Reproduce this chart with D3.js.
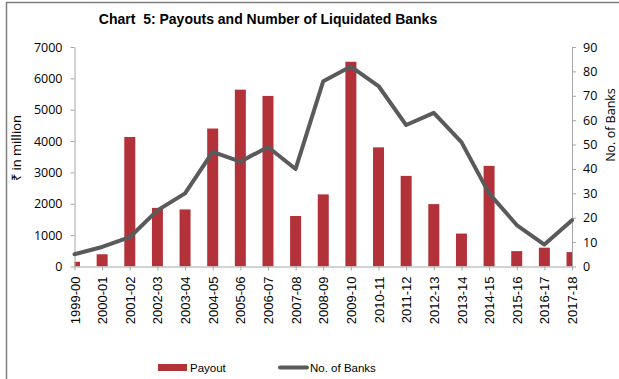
<!DOCTYPE html>
<html>
<head>
<meta charset="utf-8">
<script src="https://cdn.jsdelivr.net/npm/d3@7"></script>
<style>
  html, body { margin: 0; padding: 0; background: #fff; }
  svg { display: block; }
</style>
</head>
<body>
<svg id="chart" width="619" height="379"></svg>
<script>
// Fiscal years
const years = ["1999-00","2000-01","2001-02","2002-03","2003-04","2004-05","2005-06",
  "2006-07","2007-08","2008-09","2009-10","2010-11","2011-12","2012-13","2013-14",
  "2014-15","2015-16","2016-17","2017-18"];
// Payout, ₹ million (left axis)
const payout = [150, 390, 4130, 1870, 1820, 4400, 5640, 5440, 1610, 2300, 6530,
  3800, 2890, 1990, 1050, 3210, 490, 600, 460];
// Number of liquidated banks (right axis)
const banks = [5, 8, 12, 23, 30, 47, 43, 49, 40, 76, 82, 74, 58, 63, 51, 30, 17, 9, 19];
const leftTicks = [0, 1000, 2000, 3000, 4000, 5000, 6000, 7000];
const rightTicks = [0, 10, 20, 30, 40, 50, 60, 70, 80, 90];

const svg = d3.select("#chart");
const W = 619, H = 379;
const plot = { left: 74.5, right: 572, top: 47, bottom: 266.5 };
const barColor = "#B3323A", lineColor = "#5A5A5A", axisColor = "#A6A6A6";
const tickFont = "'Open Sans', 'Liberation Sans', sans-serif";
const arial = "'Liberation Sans', Arial, sans-serif";

svg.append("rect").attr("width", W).attr("height", H).attr("fill", "#fff");

// outer frame (top and left edges)
svg.append("path")
  .attr("d", `M6.5,${H} V2.5 H${W}`)
  .attr("fill", "none").attr("stroke", "#7F7F7F").attr("stroke-width", 1.5);

// title
svg.append("text")
  .attr("x", 268).attr("y", 24)
  .attr("text-anchor", "middle")
  .style("white-space", "pre")
  .attr("font-family", arial).attr("font-weight", "bold").attr("font-size", 14)
  .text("Chart  5: Payouts and Number of Liquidated Banks");

const x = d3.scalePoint().domain(years).range([plot.left, plot.right]);
const yL = d3.scaleLinear().domain([0, 7000]).range([plot.bottom, plot.top]);
const yR = d3.scaleLinear().domain([0, 90]).range([plot.bottom, plot.top]);

svg.append("clipPath").attr("id", "plotClip")
  .append("rect")
  .attr("x", plot.left).attr("y", 0)
  .attr("width", plot.right - plot.left).attr("height", plot.bottom);

// bars
const barW = 11;
svg.append("g").attr("clip-path", "url(#plotClip)")
  .selectAll("rect").data(years).join("rect")
  .attr("x", d => x(d) - barW / 2)
  .attr("y", (d, i) => yL(payout[i]))
  .attr("width", barW)
  .attr("height", (d, i) => plot.bottom - yL(payout[i]))
  .attr("fill", barColor);

// axes
function styleAxis(g) {
  g.selectAll(".domain").attr("stroke", axisColor);
  g.selectAll(".tick line").attr("stroke", axisColor);
  g.selectAll("text").attr("fill", "#000");
}

const gL = svg.append("g").attr("transform", `translate(${plot.left},0)`)
  .call(d3.axisLeft(yL).tickValues(leftTicks).tickFormat(d3.format("d"))
    .tickSize(4).tickSizeOuter(0).tickPadding(8));
gL.attr("font-family", tickFont).attr("font-size", 12.5);
styleAxis(gL);

const gR = svg.append("g").attr("transform", `translate(${plot.right},0)`)
  .call(d3.axisRight(yR).tickValues(rightTicks).tickFormat(d3.format("d"))
    .tickSize(4).tickSizeOuter(0).tickPadding(7));
gR.attr("font-family", tickFont).attr("font-size", 12.5);
styleAxis(gR);

const gX = svg.append("g").attr("transform", `translate(0,${plot.bottom})`)
  .call(d3.axisBottom(x).tickSize(4).tickSizeOuter(0));
gX.attr("font-family", arial).attr("font-size", 13);
gX.selectAll(".tick text")
  .attr("transform", "rotate(-90)")
  .attr("text-anchor", "end")
  .attr("x", -10).attr("y", 0).attr("dy", "0.35em");
styleAxis(gX);
gX.select(".domain").attr("d", `M${plot.left},0.5H${plot.right}`);

// number of banks line
svg.append("path")
  .datum(years)
  .attr("d", d3.line().x(d => x(d)).y((d, i) => yR(banks[i])))
  .attr("fill", "none").attr("stroke", lineColor)
  .attr("stroke-width", 4).attr("stroke-linejoin", "round").attr("stroke-linecap", "round");

// axis titles
svg.append("text")
  .attr("transform", "translate(21,148) rotate(-90)")
  .attr("text-anchor", "middle")
  .attr("font-family", tickFont).attr("font-size", 13)
  .text("₹ in million");
svg.append("text")
  .attr("transform", "translate(614.5,125) rotate(-90)")
  .attr("text-anchor", "middle")
  .attr("font-family", tickFont).attr("font-size", 12.5)
  .text("No. of Banks");

// legend
const lg = svg.append("g").attr("font-family", arial).attr("font-size", 11.5);
lg.append("rect").attr("x", 158).attr("y", 364).attr("width", 29).attr("height", 7).attr("fill", barColor);
lg.append("text").attr("x", 190).attr("y", 371.5).text("Payout");
lg.append("line").attr("x1", 280).attr("x2", 307).attr("y1", 367.5).attr("y2", 367.5)
  .attr("stroke", lineColor).attr("stroke-width", 4).attr("stroke-linecap", "round");
lg.append("text").attr("x", 310).attr("y", 371.5).text("No. of Banks");
</script>
</body>
</html>
